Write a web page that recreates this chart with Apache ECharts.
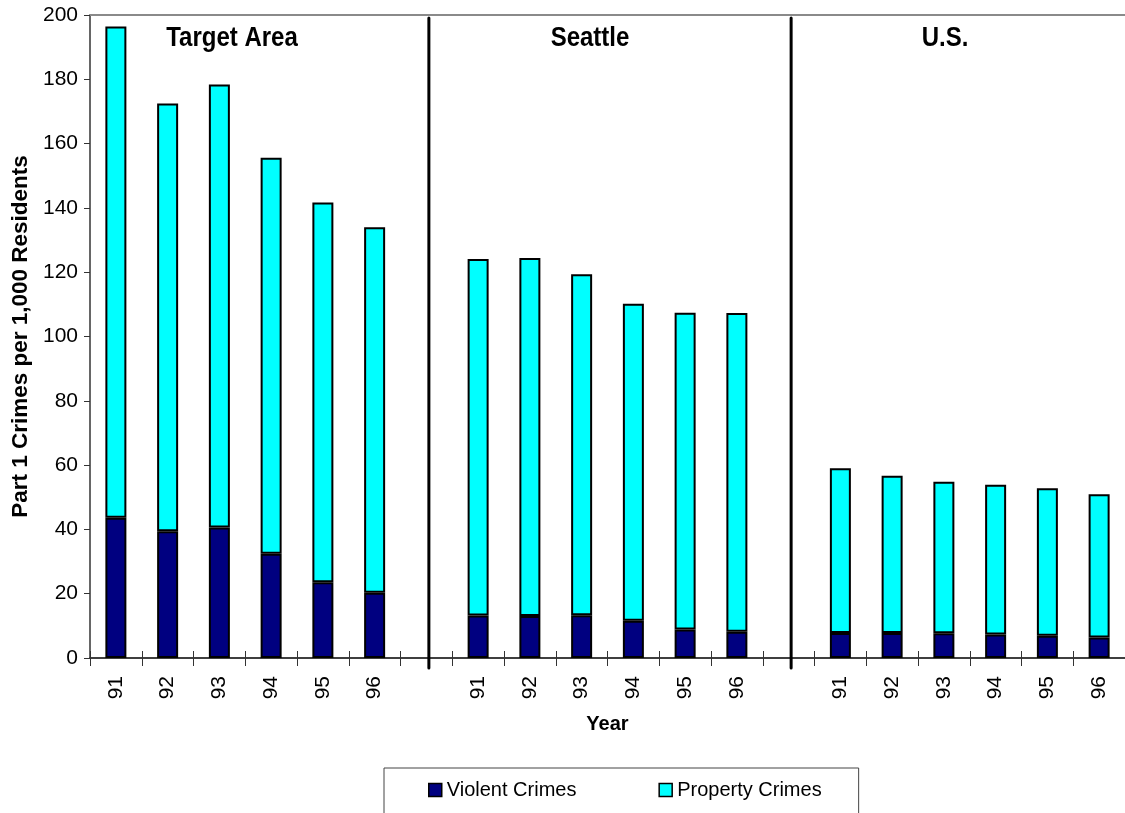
<!DOCTYPE html>
<html>
<head>
<meta charset="utf-8">
<script src="https://cdn.jsdelivr.net/npm/echarts@6/dist/echarts.min.js"></script>
<style>
  html, body { margin: 0; padding: 0; background: #fff; }
  #chart { width: 1125px; height: 813px; }
</style>
</head>
<body>
<div id="chart"></div>
<script>
// Part 1 crimes per 1,000 residents, 1991-1996, for three areas
const years = ['91', '92', '93', '94', '95', '96'];
const regions = ['Target Area', 'Seattle', 'U.S.'];

const targetViolent  = [43.6, 39.4, 40.6, 32.4, 23.6, 20.3];
const targetProperty = [152.8, 133.1, 137.8, 123.2, 118.1, 113.7];
const seattleViolent  = [13.2, 13.1, 13.3, 11.6, 8.9, 8.2];
const seattleProperty = [110.9, 111.3, 106.1, 98.6, 98.5, 99.1];
const usViolent  = [7.8, 7.8, 7.7, 7.3, 6.9, 6.4];
const usProperty = [51.2, 48.9, 47.1, 46.6, 45.9, 44.5];

const yTicks = { min: 0, max: 200, interval: 20 };

// Three groups of six years, with an empty slot between groups
const categories = [].concat(years, [''], years, [''], years);
const gap = [null];
const violent  = [].concat(targetViolent, gap, seattleViolent, gap, usViolent);
const property = [].concat(targetProperty, gap, seattleProperty, gap, usProperty);
// Dividers sit in the empty slots
const dividerSlots = [[years.length], [years.length * 2 + 1]];

const FONT = '"Liberation Sans", Arial, sans-serif';
const chart = echarts.init(document.getElementById('chart'));

// Group headings, slightly tall bold text
const headingX = [232, 590, 945];
const headings = regions.map((name, i) => ({
  type: 'text', x: headingX[i], y: 39, scaleY: 1.12, z: 10,
  style: { text: name, font: 'bold 24px ' + FONT, fill: '#000', textAlign: 'center', textVerticalAlign: 'middle' }
}));

chart.setOption({
  animation: false,
  backgroundColor: '#ffffff',
  textStyle: { fontFamily: FONT, color: '#000' },
  grid: { left: 90, top: 15, width: 1038, height: 643, containLabel: false },
  legend: {
    data: ['Violent Crimes', 'Property Crimes'],
    left: 384, top: 768,
    orient: 'horizontal',
    padding: [12, 37, 14, 44],
    itemGap: 82,
    itemWidth: 13, itemHeight: 13,
    icon: 'rect',
    borderColor: '#444', borderWidth: 1,
    itemStyle: { borderColor: '#000', borderWidth: 1.5 },
    textStyle: { fontFamily: FONT, fontSize: 20, color: '#000' }
  },
  xAxis: [
    {
      type: 'category', data: categories, position: 'bottom',
      name: 'Year', nameLocation: 'middle', nameGap: 56,
      nameTextStyle: { fontFamily: FONT, fontSize: 20, fontWeight: 'bold', color: '#000' },
      axisLine: { lineStyle: { color: '#333', width: 1.5 } },
      axisTick: { show: true, inside: false, length: 8, lineStyle: { color: '#333', width: 1 } },
      axisLabel: { rotate: 90, margin: 18, fontFamily: FONT, fontSize: 21, color: '#000', interval: 0 },
      splitLine: { show: false }
    },
    {
      type: 'category', data: categories, position: 'bottom',
      axisLine: { show: true, lineStyle: { color: '#333', width: 1.5 } },
      axisTick: { show: true, inside: true, length: 7, lineStyle: { color: '#333', width: 1 } },
      axisLabel: { show: false },
      splitLine: { show: false }
    },
    {
      type: 'category', data: categories, position: 'top',
      axisLine: { show: true, lineStyle: { color: '#8a8a8a', width: 2 } },
      axisTick: { show: false },
      axisLabel: { show: false },
      splitLine: { show: false }
    }
  ],
  yAxis: {
    type: 'value', min: yTicks.min, max: yTicks.max, interval: yTicks.interval,
    name: 'Part 1 Crimes per 1,000 Residents', nameLocation: 'middle', nameGap: 57, nameRotate: 90,
    nameTextStyle: { fontFamily: FONT, fontSize: 22.5, fontWeight: 'bold', color: '#000' },
    axisLine: { show: true, lineStyle: { color: '#333', width: 1.5 } },
    axisTick: { show: true, inside: false, length: 6, lineStyle: { color: '#333', width: 1 } },
    axisLabel: { margin: 12, fontFamily: FONT, fontSize: 21, color: '#000' },
    splitLine: { show: false }
  },
  graphic: headings,
  series: [
    {
      name: 'Violent Crimes', type: 'bar', stack: 'crimes', xAxisIndex: 0,
      data: violent, barWidth: 21,
      itemStyle: { color: '#000080', borderColor: '#000', borderWidth: 2 }
    },
    {
      name: 'Property Crimes', type: 'bar', stack: 'crimes', xAxisIndex: 0,
      data: property, barWidth: 21,
      itemStyle: { color: '#00ffff', borderColor: '#000', borderWidth: 2 }
    },
    {
      name: 'dividers', type: 'custom', xAxisIndex: 0, z: 5,
      data: dividerSlots,
      encode: { x: 0 },
      renderItem: function (params, api) {
        const top = api.coord([api.value(0), yTicks.max]);
        const bottom = api.coord([api.value(0), yTicks.min]);
        return {
          type: 'line',
          shape: { x1: top[0] + 2.5, y1: top[1] + 3, x2: bottom[0] + 2.5, y2: bottom[1] + 10 },
          style: { stroke: '#000', lineWidth: 3, lineCap: 'round' }
        };
      }
    }
  ]
});
</script>
</body>
</html>
